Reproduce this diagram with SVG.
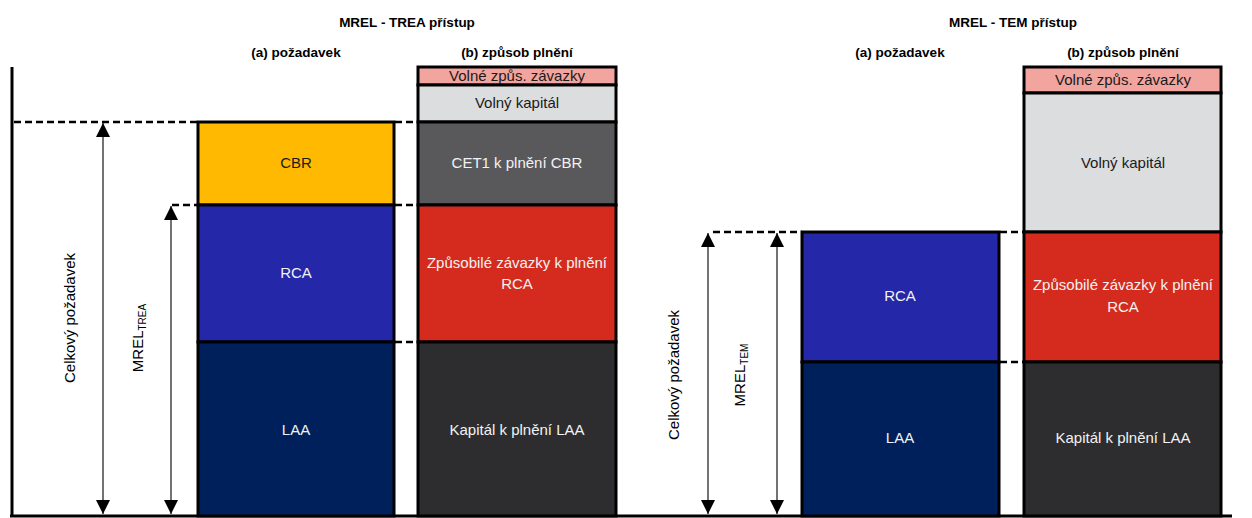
<svg xmlns="http://www.w3.org/2000/svg" width="1252" height="518" viewBox="0 0 1252 518">
<style>
text{font-family:"Liberation Sans",Arial,sans-serif;}
.t{font-size:13.5px;font-weight:bold;fill:#000;text-anchor:middle;}
.l{font-size:15px;text-anchor:middle;}
.w{fill:#f2f2f2;}
.k{fill:#1a1a1a;}
.seg{stroke:#000;stroke-width:3;}
.dash{stroke:#000;stroke-width:2.5;stroke-dasharray:7 4;fill:none;}
.arr{stroke:#444;stroke-width:1.5;fill:none;marker-start:url(#ah);marker-end:url(#ah);}
.axis{stroke:#000;stroke-width:3;fill:none;}
.rot{font-size:15px;fill:#000;text-anchor:middle;}
</style>
<defs>
<marker id="ah" viewBox="0 0 14 14" refX="14" refY="7" markerWidth="14" markerHeight="14" markerUnits="userSpaceOnUse" orient="auto-start-reverse">
<path d="M0,0 L14,7 L0,14 Z" fill="#000"/>
</marker>
</defs>
<rect width="1252" height="518" fill="#fff"/>

<g id="titles">
<text class="t" x="407" y="27">MREL - TREA přístup</text>
<text class="t" x="296" y="57">(a) požadavek</text>
<text class="t" x="517" y="57">(b) způsob plnění</text>
<text class="t" x="1013" y="27">MREL - TEM přístup</text>
<text class="t" x="900" y="57">(a) požadavek</text>
<text class="t" x="1123" y="57">(b) způsob plnění</text>
</g>

<g id="axes">
<line class="axis" x1="12" y1="67" x2="12" y2="516"/>
<line class="axis" x1="10" y1="516" x2="1232" y2="516"/>
</g>

<g id="connectors">
<line class="dash" x1="14" y1="122" x2="198" y2="122"/>
<line class="dash" x1="395" y1="122" x2="418" y2="122"/>
<line class="dash" x1="172" y1="205" x2="198" y2="205"/>
<line class="dash" x1="395" y1="205" x2="418" y2="205"/>
<line class="dash" x1="395" y1="342" x2="418" y2="342"/>
<line class="dash" x1="713" y1="232" x2="802" y2="232"/>
<line class="dash" x1="1000" y1="232" x2="1024" y2="232"/>
<line class="dash" x1="1000" y1="362" x2="1024" y2="362"/>
<line class="arr" x1="103" y1="123" x2="103" y2="514"/>
<line class="arr" x1="171" y1="206" x2="171" y2="514"/>
<line class="arr" x1="708" y1="233" x2="708" y2="514"/>
<line class="arr" x1="777" y1="233" x2="777" y2="514"/>
</g>

<g id="axis-labels">
<text class="rot" transform="translate(75,318) rotate(-90)">Celkový požadavek</text>
<text class="rot" transform="translate(143,338) rotate(-90)">MREL<tspan font-size="10" dy="3">TREA</tspan></text>
<text class="rot" transform="translate(679,375) rotate(-90)">Celkový požadavek</text>
<text class="rot" transform="translate(745,375) rotate(-90)">MREL<tspan font-size="10" dy="3">TEM</tspan></text>
</g>

<g id="trea-a-cbr"><rect class="seg" x="198" y="122" width="196" height="83" fill="#FFB900"/><text class="l k" x="296" y="168">CBR</text></g>
<g id="trea-a-rca"><rect class="seg" x="198" y="205" width="196" height="137" fill="#2427A8"/><text class="l w" x="296" y="278">RCA</text></g>
<g id="trea-a-laa"><rect class="seg" x="198" y="342" width="196" height="174" fill="#00205B"/><text class="l w" x="296" y="435">LAA</text></g>

<g id="trea-b-pink"><rect class="seg" x="418" y="67" width="198" height="18" fill="#F2A59F"/><text class="l k" x="517" y="81">Volné způs. závazky</text></g>
<g id="trea-b-volny"><rect class="seg" x="418" y="85" width="198" height="37" fill="#DCDDDF"/><text class="l k" x="517" y="108">Volný kapitál</text></g>
<g id="trea-b-cet1"><rect class="seg" x="418" y="122" width="198" height="83" fill="#59595B"/><text class="l w" x="517" y="168">CET1 k plnění CBR</text></g>
<g id="trea-b-red"><rect class="seg" x="418" y="205" width="198" height="137" fill="#D52B1E"/><text class="l w" x="517" y="268">Způsobilé závazky k plnění</text><text class="l w" x="517" y="289">RCA</text></g>
<g id="trea-b-dark"><rect class="seg" x="418" y="342" width="198" height="174" fill="#2D2D2F"/><text class="l w" x="517" y="435">Kapitál k plnění LAA</text></g>

<g id="tem-a-rca"><rect class="seg" x="802" y="232" width="197" height="130" fill="#2427A8"/><text class="l w" x="900" y="301">RCA</text></g>
<g id="tem-a-laa"><rect class="seg" x="802" y="362" width="197" height="154" fill="#00205B"/><text class="l w" x="900" y="443">LAA</text></g>

<g id="tem-b-pink"><rect class="seg" x="1024" y="67" width="197" height="26" fill="#F2A59F"/><text class="l k" x="1123" y="85">Volné způs. závazky</text></g>
<g id="tem-b-volny"><rect class="seg" x="1024" y="93" width="197" height="139" fill="#DCDDDF"/><text class="l k" x="1123" y="168">Volný kapitál</text></g>
<g id="tem-b-red"><rect class="seg" x="1024" y="232" width="197" height="130" fill="#D52B1E"/><text class="l w" x="1123" y="290">Způsobilé závazky k plnění</text><text class="l w" x="1123" y="312">RCA</text></g>
<g id="tem-b-dark"><rect class="seg" x="1024" y="362" width="197" height="154" fill="#2D2D2F"/><text class="l w" x="1123" y="443">Kapitál k plnění LAA</text></g>
</svg>
